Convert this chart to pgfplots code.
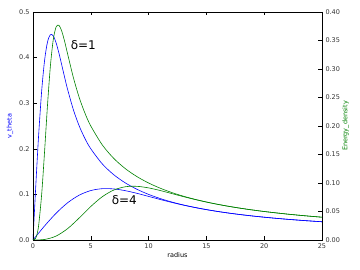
\documentclass[border=0pt]{standalone}
\usepackage{pgfplots}
\pgfplotsset{compat=1.18}
\usepackage{fontspec}
\setmainfont{DejaVu Sans}
\definecolor{mplblue}{rgb}{0,0,1}
\definecolor{mplgreen}{rgb}{0,0.5,0}
\begin{document}
\begin{tikzpicture}[x=1pt,y=1pt]
\useasboundingbox (0,0) rectangle (360,270);
\pgfplotsset{
  base/.style={
    at={(33pt,30pt)}, anchor=south west,
    scale only axis, width=289pt, height=228pt,
    xmin=0, xmax=25,
    tick align=inside,
    major tick length=3.5pt,
    tick style={black, line width=0.4pt},
    axis line style={black, line width=0.6pt},
    ticklabel style={font=\fontsize{6.5}{7}\selectfont, text=black!80},
    /pgf/number format/assume math mode=true,
  }
}
\begin{axis}[base,
  ymin=0, ymax=0.5,
  xtick={0,5,10,15,20,25},
  ytick={0,0.1,0.2,0.3,0.4,0.5},
  yticklabel style={/pgf/number format/.cd, fixed, fixed zerofill, precision=1},
  xtick pos=both,
  ytick pos=left,
  xlabel={radius}, xlabel style={yshift=3pt, font=\fontsize{6.5}{7}\selectfont},
  ylabel={v\_theta}, ylabel style={yshift=-1pt, text=mplblue, font=\fontsize{6.5}{7}\selectfont},
]
\addplot[mplblue, line width=0.6pt, smooth] coordinates {
(0,0) (0.125,0.06226) (0.25,0.1231) (0.375,0.18107) (0.5,0.2350) (0.75,0.3269) (1.0,0.3935) (1.25,0.4337) (1.5,0.4502) (1.75,0.4478) (2.0,0.4323) (2.25,0.4091) (2.5,0.3824) (2.75,0.3553) (3.0,0.3296) (3.5,0.2851) (4,0.2499) (4.5,0.2222) (5,0.2) (6,0.16667) (7,0.14286) (8,0.125) (9,0.11111) (10,0.1) (11,0.09091) (12,0.08333) (13,0.07692) (14,0.07143) (15,0.06667) (16,0.0625) (17,0.05882) (18,0.05556) (19,0.05263) (20,0.05) (21,0.04762) (22,0.04545) (23,0.04348) (24,0.04167) (25,0.04)
};
\addplot[mplblue, line width=0.6pt, smooth] coordinates {
(0,0) (1,0.03077) (2,0.05875) (3,0.08173) (4,0.09837) (5,0.10843) (6,0.11256) (7,0.11196) (8,0.10808) (9,0.10228) (10,0.0956) (11,0.08883) (12,0.0824) (13,0.07653) (14,0.07128) (15,0.06661) (16,0.06248) (17,0.05881) (18,0.05555) (19,0.05263) (20,0.05) (21,0.04762) (22,0.04545) (23,0.04348) (24,0.04167) (25,0.04)
};
\node[anchor=west, font=\fontsize{12}{13}\selectfont, inner sep=0pt] at (axis cs:3.25,0.428) {δ=1};
\node[anchor=west, font=\fontsize{12}{13}\selectfont, inner sep=0pt] at (axis cs:6.8,0.088) {δ=4};
\end{axis}
\begin{axis}[base,
  ymin=0, ymax=0.4,
  xtick=\empty,
  axis x line=none,
  ytick={0,0.05,0.1,0.15,0.2,0.25,0.3,0.35,0.4},
  yticklabel style={/pgf/number format/.cd, fixed, fixed zerofill, precision=2},
  ytick pos=right,
  yticklabel pos=right,
  ylabel={Energy\_density},
  ylabel near ticks,
  ylabel style={text=mplgreen, font=\fontsize{6.5}{7}\selectfont, yshift=4.5pt},
]
\addplot[mplgreen, line width=0.6pt, smooth] coordinates {
(0,0) (0.125,0.000484) (0.25,0.003787) (0.375,0.012295) (0.5,0.02761) (0.75,0.08014) (1.0,0.15482) (1.25,0.23517) (1.5,0.30407) (1.75,0.35100) (2.0,0.37382) (2.25,0.37655) (2.5,0.36562) (2.75,0.34725) (3.0,0.32597) (3.5,0.28446) (4,0.24983) (4.5,0.2222) (5,0.2) (6,0.16667) (7,0.14286) (8,0.125) (9,0.11111) (10,0.1) (11,0.09091) (12,0.08333) (13,0.07692) (14,0.07143) (15,0.06667) (16,0.0625) (17,0.05882) (18,0.05556) (19,0.05263) (20,0.05) (21,0.04762) (22,0.04545) (23,0.04348) (24,0.04167) (25,0.04)
};
\addplot[mplgreen, line width=0.6pt, smooth] coordinates {
(0,0) (1,0.000947) (2,0.006903) (3,0.020035) (4,0.038705) (5,0.058793) (6,0.076018) (7,0.08775) (8,0.093455) (9,0.094138) (10,0.091405) (11,0.086813) (12,0.081493) (13,0.07614) (14,0.071115) (15,0.06655) (16,0.062458) (17,0.05881) (18,0.05555) (19,0.05263) (20,0.05) (21,0.04762) (22,0.04545) (23,0.04348) (24,0.04167) (25,0.04)
};
\end{axis}
\end{tikzpicture}
\end{document}
